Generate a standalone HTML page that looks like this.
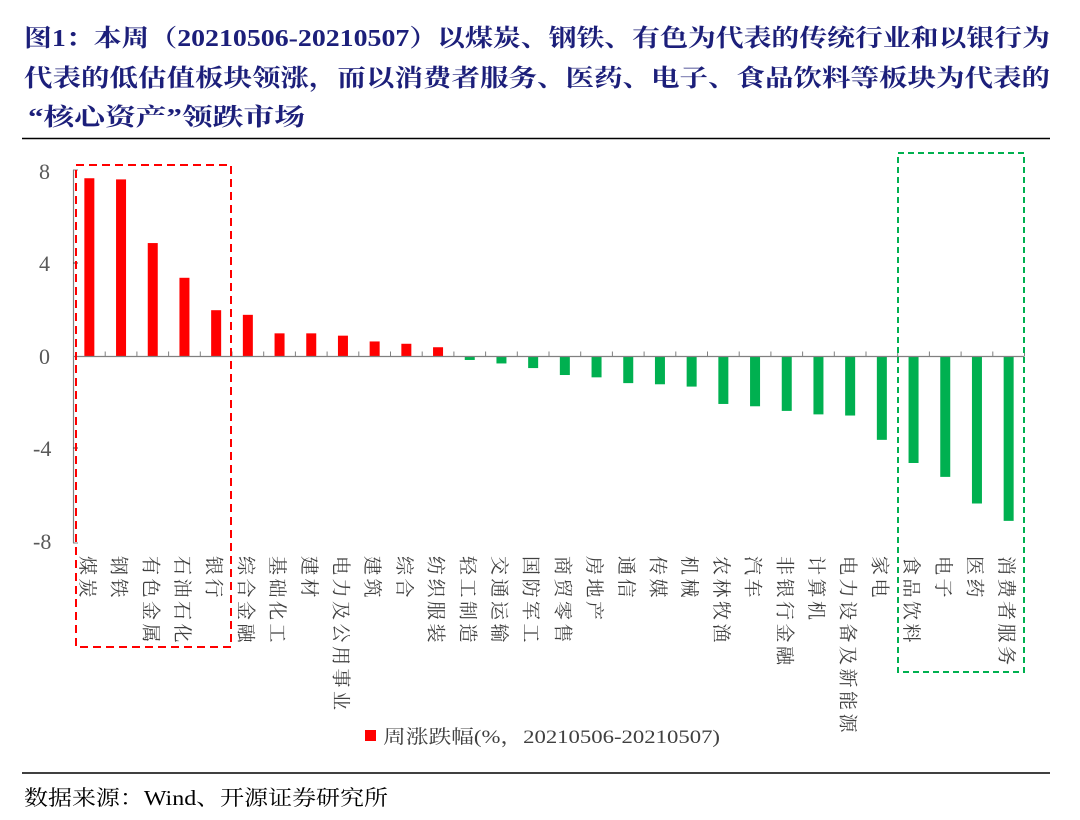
<!DOCTYPE html>
<html><head><meta charset="utf-8"><style>
html,body{margin:0;padding:0;background:#fff;}
svg{display:block;}
</style></head><body>
<svg width="1080" height="820" xmlns="http://www.w3.org/2000/svg" font-family="'Liberation Serif','Noto Serif CJK SC',serif">
<g fill="#1c1f7a" font-weight="bold" font-size="24">
<text x="24" y="46" textLength="1026" lengthAdjust="spacingAndGlyphs">图1：本周（20210506-20210507）以煤炭、钢铁、有色为代表的传统行业和以银行为</text>
<text x="24" y="86" textLength="1026" lengthAdjust="spacingAndGlyphs">代表的低估值板块领涨，而以消费者服务、医药、电子、食品饮料等板块为代表的</text>
<text x="28" y="125" textLength="277" lengthAdjust="spacingAndGlyphs">“核心资产”领跌市场</text>
</g>
<line x1="22" y1="138.5" x2="1050" y2="138.5" stroke="#000" stroke-width="1.5"/>
<g fill="#595959" font-size="22">
<text x="39" y="179">8</text>
<text x="39" y="271">4</text>
<text x="39" y="364">0</text>
<text x="33" y="456">-4</text>
<text x="33" y="549">-8</text>
</g>
<g id="bars"></g>
<line x1="73.5" y1="170" x2="73.5" y2="543" stroke="#808080" stroke-width="1.2"/>
<line x1="73" y1="543" x2="78" y2="543" stroke="#808080"/>
<line x1="73" y1="170" x2="78" y2="170" stroke="#808080"/>
<line x1="73" y1="263" x2="78" y2="263" stroke="#404040"/>
<line x1="73" y1="448" x2="78" y2="448" stroke="#404040"/>
<line x1="73" y1="356.5" x2="1024" y2="356.5" stroke="#808080" stroke-width="1.2"/>
<g id="ticks" stroke="#808080"></g>
<g id="labels" fill="#404040" font-size="19" font-family="'Noto Serif CJK SC','Liberation Serif',serif"></g>
<rect x="76" y="165" width="155" height="482" fill="none" stroke="#ff0000" stroke-width="2" stroke-dasharray="8,5"/>
<rect x="898" y="153" width="126" height="519" fill="none" stroke="#00b050" stroke-width="2" stroke-dasharray="6,4"/>
<rect x="365" y="730" width="11" height="11" fill="#ff0000"/>
<text x="383" y="743" font-size="19" fill="#404040" textLength="337" lengthAdjust="spacingAndGlyphs">周涨跌幅(%，20210506-20210507)</text>
<line x1="22" y1="773" x2="1050" y2="773" stroke="#000" stroke-width="1.5"/>
<text x="24" y="805" font-size="21" fill="#000" textLength="364" lengthAdjust="spacingAndGlyphs">数据来源：Wind、开源证券研究所</text>
</svg>
<script>
var names=["煤炭","钢铁","有色金属","石油石化","银行","综合金融","基础化工","建材","电力及公用事业","建筑","综合","纺织服装","轻工制造","交通运输","国防军工","商贸零售","房地产","通信","传媒","机械","农林牧渔","汽车","非银行金融","计算机","电力设备及新能源","家电","食品饮料","电子","医药","消费者服务"];
var vals=[7.7,7.65,4.9,3.4,2.0,1.8,1.0,1.0,0.9,0.65,0.55,0.4,-0.15,-0.3,-0.5,-0.8,-0.9,-1.15,-1.2,-1.3,-2.05,-2.15,-2.35,-2.5,-2.55,-3.6,-4.6,-5.2,-6.35,-7.1];
var ns="http://www.w3.org/2000/svg",x0=73.5,step=31.7,zero=356.5,k=23.15;
var bars=document.getElementById("bars"),ticks=document.getElementById("ticks"),lab=document.getElementById("labels");
for(var i=0;i<30;i++){
 var cx=x0+step*(i+0.5),v=vals[i],h=Math.abs(v)*k;
 var r=document.createElementNS(ns,"rect");
 r.setAttribute("x",cx-5);r.setAttribute("width",10);
 r.setAttribute("y",v>=0?zero-h:zero);r.setAttribute("height",h);
 r.setAttribute("fill",v>=0?"#ff0000":"#00b050");bars.appendChild(r);
 var t=document.createElementNS(ns,"line"),tx=x0+step*(i+1);
 t.setAttribute("x1",tx);t.setAttribute("x2",tx);t.setAttribute("y1",zero-5);t.setAttribute("y2",zero);ticks.appendChild(t);
 var tt=document.createElementNS(ns,"text");
 tt.setAttribute("transform","translate("+(cx-1)+",556) rotate(90)");
 tt.setAttribute("dominant-baseline","central");tt.setAttribute("letter-spacing","3.5");
 tt.textContent=names[i];lab.appendChild(tt);
}
</script>
</body></html>
